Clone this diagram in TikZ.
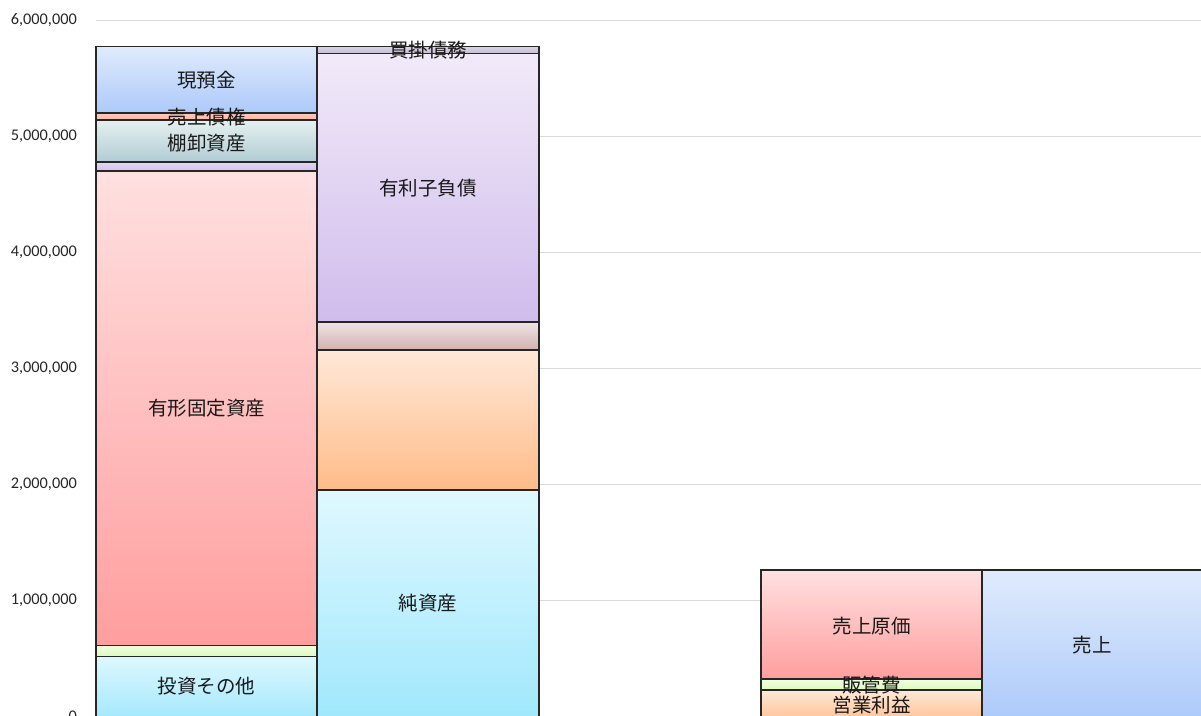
\documentclass[tikz,border=0pt]{standalone}
\usepackage{fontspec}
\setmainfont{Carlito}
\newfontfamily\jpfont{Noto Sans CJK JP}

\definecolor{cashT}{HTML}{E0EBFC}  \definecolor{cashB}{HTML}{ACCAFA}
\definecolor{recvT}{HTML}{FFCABA}  \definecolor{recvB}{HTML}{FFB6A4}
\definecolor{invT}{HTML}{E6F0F0}   \definecolor{invB}{HTML}{B0CCD4}
\definecolor{ocaT}{HTML}{E2D6F2}   \definecolor{ocaB}{HTML}{D2C0EA}
\definecolor{ppeT}{HTML}{FFE0E0}   \definecolor{ppeB}{HTML}{FF9E9E}
\definecolor{intT}{HTML}{F0FFE0}   \definecolor{intB}{HTML}{DDFABA}
\definecolor{ivsT}{HTML}{DDF8FF}   \definecolor{ivsB}{HTML}{A4E8FC}
\definecolor{payT}{HTML}{DAD4E4}   \definecolor{payB}{HTML}{C6BED4}
\definecolor{debtT}{HTML}{F2EAF9}  \definecolor{debtB}{HTML}{D0BCEC}
\definecolor{olT}{HTML}{EEE4E4}    \definecolor{olB}{HTML}{D4B0B0}
\definecolor{orgT}{HTML}{FFE8D8}   \definecolor{orgB}{HTML}{FFBC88}
\definecolor{eqT}{HTML}{E0F8FF}    \definecolor{eqB}{HTML}{A0E8FC}
\definecolor{gridgray}{HTML}{D9D9D9}

\tikzset{
  gridline/.style={draw=gridgray, line width=1pt},
  axislabel/.style={anchor=east, inner sep=0pt, text=black!85,
    font=\fontsize{16.3}{17}\selectfont},
  segment/.style={draw=black!85, line width=1.3pt},
  seglabel/.style={inner sep=0pt, text=black!90,
    font=\jpfont\fontsize{19.5}{20}\selectfont},
}

\begin{document}
\begin{tikzpicture}[x=1pt,y=-1pt]
	\useasboundingbox (0,0) rectangle (1201,715);
	\clip (0,0) rectangle (1201,715);
	% grid and axis
	\foreach \v/\lab in {0/0,1/{1,000,000},2/{2,000,000},3/{3,000,000},4/{4,000,000},5/{5,000,000},6/{6,000,000}}{
		\draw[gridline] (96,716-116*\v) -- (1201,716-116*\v);
		\node[axislabel] (tick\v) at (77,716-116*\v) {\lab};
	}
	% assets
	\draw[segment,top color=cashT,bottom color=cashB] (96,46.5) rectangle (317,113);
	\draw[segment,top color=recvT,bottom color=recvB] (96,113) rectangle (317,120);
	\draw[segment,top color=invT,bottom color=invB] (96,120) rectangle (317,162);
	\draw[segment,top color=ocaT,bottom color=ocaB] (96,162) rectangle (317,171);
	\draw[segment,top color=ppeT,bottom color=ppeB] (96,171) rectangle (317,645.5);
	\draw[segment,top color=intT,bottom color=intB] (96,645.5) rectangle (317,656.5);
	\draw[segment,top color=ivsT,bottom color=ivsB] (96,656.5) rectangle (317,718);
	% liabilities and equity
	\draw[segment,top color=payT,bottom color=payB] (317,46.5) rectangle (539,53.5);
	\draw[segment,top color=debtT,bottom color=debtB] (317,53.5) rectangle (539,322);
	\draw[segment,top color=olT,bottom color=olB] (317,322) rectangle (539,350);
	\draw[segment,top color=orgT,bottom color=orgB] (317,350) rectangle (539,490);
	\draw[segment,top color=eqT,bottom color=eqB] (317,490) rectangle (539,718);
	% income statement
	\draw[segment,top color=ppeT,bottom color=ppeB] (761,570) rectangle (982,679);
	\draw[segment,top color=intT,bottom color=intB] (761,679) rectangle (982,690);
	\draw[segment,top color=orgT,bottom color=orgB!80!orgT] (761,690) rectangle (982,718);
	\draw[segment,top color=cashT,bottom color=cashB] (982,570) rectangle (1206,718);
	% labels
	\node[seglabel] (cash) at (206.5,80) {現預金};
	\node[seglabel] (recv) at (206.5,117) {売上債権};
	\node[seglabel] (inv) at (206.5,143) {棚卸資産};
	\node[seglabel] (ppe) at (206.5,408) {有形固定資産};
	\node[seglabel] (invest) at (206.5,686) {投資その他};
	\node[seglabel] (payable) at (428,50) {買掛債務};
	\node[seglabel] (debt) at (428,188) {有利子負債};
	\node[seglabel] (equity) at (428,603) {純資産};
	\node[seglabel] (cogs) at (871.5,626) {売上原価};
	\node[seglabel] (sga) at (871.5,685) {販管費};
	\node[seglabel] (opinc) at (871.5,705) {営業利益};
	\node[seglabel] (sales) at (1092,645) {売上};
\end{tikzpicture}
\end{document}
